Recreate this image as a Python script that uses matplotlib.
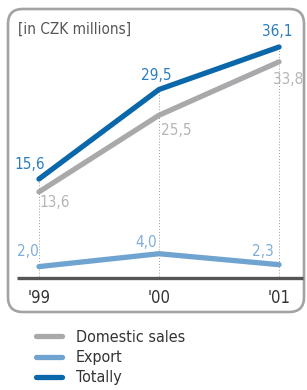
import matplotlib.pyplot as plt
from matplotlib.patches import FancyBboxPatch
from matplotlib.lines import Line2D

years = ["'99", "'00", "'01"]
domestic = [13.6, 25.5, 33.8]
export = [2.0, 4.0, 2.3]
totally = [15.6, 29.5, 36.1]

c_total = '#0a68aa'
c_export = '#6fa3d0'
c_dom = '#a9a9ab'

plt.rcParams['font.family'] = ['Liberation Sans Narrow', 'DejaVu Sans']
plt.rcParams['font.stretch'] = 'condensed'

fig = plt.figure(figsize=(3.07, 3.90), dpi=100)
W, H = 307, 390
# axes covers the rounded box: x 8..304 px, y 9..312 px (from top)
ax = fig.add_axes([8 / W, 1 - 312 / H, 296 / W, 303 / H])
ax.set_xlim(-0.258, 2.208)
ax.set_ylim(-5.05, 42.0)
ax.axis('off')

x = list(range(len(years)))

# rounded frame
box = FancyBboxPatch((0.0, 0.0), 1.0, 1.0, boxstyle='round,pad=0,rounding_size=0.05',
                     transform=ax.transAxes, fill=False, ec='#a3a3a3', lw=1.9,
                     clip_on=False, mutation_aspect=296 / 303)
ax.add_patch(box)

# dotted guides
for xi, top in zip(x, totally):
    ax.plot([xi, xi], [0, top], ls=(0, (1, 2)), color='#9a9a9a', lw=0.7, zorder=1)

# baseline
ax.plot([-0.18, 2.2], [0.3, 0.3], color='#555555', lw=2.4, solid_capstyle='butt', zorder=2)

ax.plot(x, domestic, color=c_dom, lw=3.8, solid_capstyle='round', zorder=3)
ax.plot(x, export, color=c_export, lw=3.8, solid_capstyle='round', zorder=3)
ax.plot(x, totally, color=c_total, lw=3.8, solid_capstyle='round', zorder=4)

fs = 11
tot_off = [(-9, 15), (-3, 14), (-2, 15)]
dom_off = [(16, -11), (17, -15), (9, -18)]
exp_off = [(-11, 15), (-13, 11), (-16, 13)]
for i in x:
    ax.annotate(f'{totally[i]:.1f}'.replace('.', ','), (i, totally[i]), xytext=tot_off[i],
                textcoords='offset pixels', ha='center', va='center', fontsize=fs, color='#2a7dbf')
    ax.annotate(f'{domestic[i]:.1f}'.replace('.', ','), (i, domestic[i]), xytext=dom_off[i],
                textcoords='offset pixels', ha='center', va='center', fontsize=fs, color='#b5b5b5')
    ax.annotate(f'{export[i]:.1f}'.replace('.', ','), (i, export[i]), xytext=exp_off[i],
                textcoords='offset pixels', ha='center', va='center', fontsize=fs, color='#7eaed8')
    ax.annotate(years[i], (i, 0), xytext=(0, -19), textcoords='offset pixels',
                ha='center', va='center', fontsize=12, color='#333333')

ax.text(10 / 296, 1 - 20 / 303, '[in CZK millions]', transform=ax.transAxes,
        ha='left', va='center', fontsize=11, color='#555555')

handles = [Line2D([], [], color=c_dom, lw=3.8, solid_capstyle='round'),
           Line2D([], [], color=c_export, lw=3.8, solid_capstyle='round'),
           Line2D([], [], color=c_total, lw=3.8, solid_capstyle='round')]
fig.legend(handles, ['Domestic sales', 'Export', 'Totally'], loc='upper left',
           bbox_to_anchor=(28 / W, 1 - 322 / H), frameon=False, fontsize=11.5,
           handlelength=1.6, handletextpad=0.9, labelspacing=0.32, borderpad=0,
           labelcolor='#333333')

fig.savefig('out.png', dpi=100)
